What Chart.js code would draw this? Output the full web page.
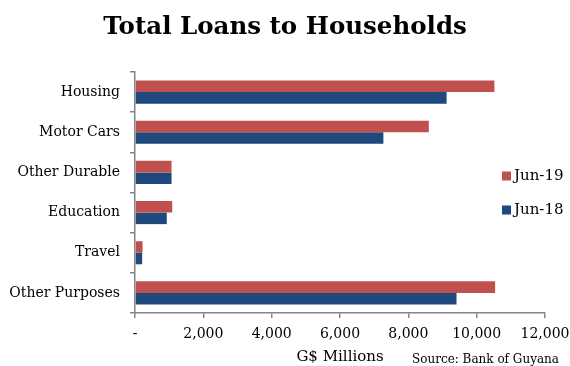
<!DOCTYPE html>
<html>
<head>
<meta charset="utf-8">
<script src="https://cdn.jsdelivr.net/npm/chart.js@4/dist/chart.umd.min.js"></script>
<style>
  html, body { margin: 0; padding: 0; background: #fff; }
  #wrap { width: 570px; height: 366px; position: relative; }
</style>
</head>
<body>
<div id="wrap"><canvas id="loansChart"></canvas></div>
<script>
// Loans by purpose, G$ millions
const categories = ['Housing', 'Motor Cars', 'Other Durable', 'Education', 'Travel', 'Other Purposes'];
const jun19 = [10520, 8600, 1070, 1090, 220, 10540];
const jun18 = [9120, 7270, 1070, 930, 210, 9410];
const xTicks = [0, 2000, 4000, 6000, 8000, 10000, 12000];

const serif = "'DejaVu Serif', Georgia, serif";
const axisGrey = '#868686';

// legend on the right, drawn by hand so it sits beside the middle bars
const sideLegend = {
    id: 'sideLegend',
    afterDraw(chart) {
        const ctx = chart.ctx;
        const ds = chart.data.datasets;
        ctx.save();
        ctx.font = '15px ' + serif;
        ctx.textBaseline = 'middle';
        ds.forEach((d, i) => {
            const y = 176 + i * 34;
            ctx.fillStyle = d.backgroundColor;
            ctx.fillRect(502, y - 4.5, 9, 9);
            ctx.fillStyle = '#000';
            ctx.fillText(d.label, 514, y);
        });
        ctx.font = '12px ' + serif;
        ctx.textBaseline = 'alphabetic';
        ctx.fillText('Source: Bank of Guyana', 412, 363);
        ctx.restore();
    }
};

new Chart(document.getElementById('loansChart'), {
    type: 'bar',
    data: {
        labels: categories,
        datasets: [
            { label: 'Jun-19', data: jun19, backgroundColor: '#C0504D' },
            { label: 'Jun-18', data: jun18, backgroundColor: '#1F497D' }
        ]
    },
    options: {
        indexAxis: 'y',
        responsive: true,
        maintainAspectRatio: false,
        animation: false,
        categoryPercentage: 0.575,
        barPercentage: 1,
        layout: { padding: 0 },
        plugins: {
            legend: { display: false },
            tooltip: { enabled: false },
            title: {
                display: true,
                text: 'Total Loans to Households',
                color: '#000',
                font: { family: serif, size: 24.5, weight: 'bold', lineHeight: 1.2 },
                padding: { top: 12.5, bottom: 30.1 }
            }
        },
        scales: {
            x: {
                min: 0,
                max: 12000,
                afterBuildTicks(scale) {
                    scale.ticks = xTicks.map(v => ({ value: v }));
                },
                afterFit(scale) {
                    scale.height = 53;
                    scale.paddingLeft = 0;
                    scale.paddingRight = 25;
                },
                border: { display: true, color: axisGrey, width: 1.5 },
                grid: { drawOnChartArea: false, color: axisGrey, tickLength: 5, lineWidth: 1.5 },
                ticks: {
                    color: '#000',
                    padding: 8,
                    font: { family: serif, size: 14 },
                    callback: v => v === 0 ? '-' : v.toLocaleString('en-US')
                },
                title: {
                    display: true,
                    text: 'G$ Millions',
                    color: '#000',
                    font: { family: serif, size: 15 },
                    padding: { top: 0, bottom: 0 }
                }
            },
            y: {
                afterFit(scale) {
                    scale.width = 135;
                    scale.paddingTop = 0;
                    scale.paddingBottom = 0;
                },
                border: { display: true, color: axisGrey, width: 1.5 },
                grid: { drawOnChartArea: false, offset: true, color: axisGrey, tickLength: 5, lineWidth: 1.5 },
                ticks: {
                    color: '#000',
                    padding: 10,
                    font: { family: serif, size: 14 }
                }
            }
        }
    },
    plugins: [sideLegend]
});
</script>
</body>
</html>
